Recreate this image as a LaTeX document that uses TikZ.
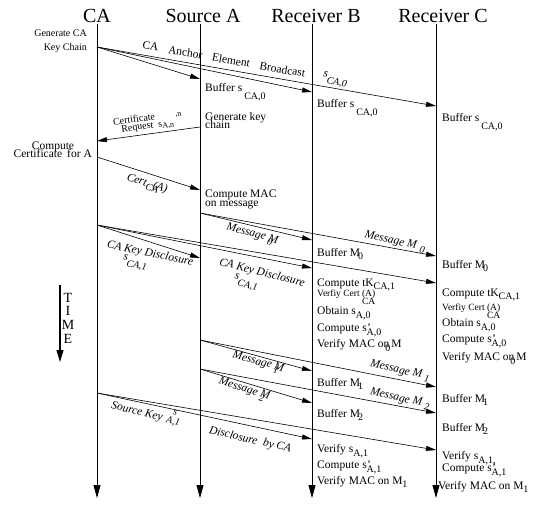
\documentclass[tikz,border=0pt]{standalone}
\usepackage{fontspec}
\setmainfont{Liberation Serif}
\usetikzlibrary{arrows.meta}
\newcommand{\lowsub}[2][-4pt]{\raisebox{#1}{\fontsize{10}{10}\selectfont #2}}
\newcommand{\bufs}{Buffer s\,\lowsub[-8pt]{CA,0}}

\begin{document}
\begin{tikzpicture}[x=1pt,y=-1pt,
  life/.style={line width=0.8pt,-{Triangle[length=13pt,width=7pt]}},
  msg/.style={line width=0.6pt,-{Triangle[length=10pt,width=5pt]}},
  timearrow/.style={line width=1.2pt,-{Triangle[length=12pt,width=7pt]}},
  title/.style={font=\fontsize{20}{20}\selectfont,anchor=base,inner sep=0pt},
  note/.style={font=\fontsize{11.5}{11.5}\selectfont,anchor=base west,inner sep=0pt},
  small/.style={font=\fontsize{9.5}{9.5}\selectfont,anchor=base west,inner sep=0pt},
  lbl/.style={font=\fontsize{11.5}{11.5}\selectfont\itshape,inner sep=0pt}]
  \useasboundingbox (0,0) rectangle (537,504);
  % lifelines
  \node[title] (ca)  at (97,22)  {CA};
  \node[title] (src) at (203,22) {Source A};
  \node[title] (rb)  at (316,22) {Receiver B};
  \node[title] (rc)  at (443,22) {Receiver C};
  \coordinate (ca top) at (97,24);  \coordinate (ca end) at (97,498);
  \coordinate (a top)  at (200,24); \coordinate (a end)  at (200,498);
  \coordinate (b top)  at (312,24); \coordinate (b end)  at (312,498);
  \coordinate (c top)  at (436,24); \coordinate (c end)  at (436,498);
  \draw[life] (ca top) -- (ca end);
  \draw[life] (a top) -- (a end);
  \draw[life] (b top) -- (b end);
  \draw[life] (c top) -- (c end);

  % anchor element broadcast
  \node[font=\fontsize{10}{10}\selectfont,anchor=base east,inner sep=0pt] (gen1) at (87,36) {Generate CA};
  \node[font=\fontsize{10}{10}\selectfont,anchor=base east,inner sep=0pt] (gen2) at (87,50) {Key Chain};
  \coordinate (ca-g1) at (97,47);
  \coordinate (a-g1) at (200,79); \coordinate (b-g1) at (312,92); \coordinate (c-g1) at (436,106);
  \draw[msg] (ca-g1) -- (a-g1);
  \draw[msg] (ca-g1) -- (b-g1);
  \draw[msg] (ca-g1) -- (c-g1);
  \node[font=\fontsize{11.5}{11.5}\selectfont,inner sep=0pt,rotate=-10] (bcast) at (224,59)
    {CA\hspace{10pt}Anchor\hspace{10pt}Element\hspace{10pt}Broadcast};
  \node[lbl,rotate=-10] (bcs) at (335,80) {s\lowsub[-6pt]{CA,0}};
  \node[note] (bufA) at (205,91) {\bufs};
  \node[note] (bufB) at (317,107) {\bufs};
  \node[note] (bufC) at (442,121) {\bufs};

  % certificate request
  \node[note] (genk1) at (205,120) {Generate key};
  \node[note] (genk2) at (205,128) {chain};
  \coordinate (a-g2) at (200,127); \coordinate (ca-g2) at (97,141);
  \draw[msg] (a-g2) -- (ca-g2);
  \node[font=\fontsize{10}{10}\selectfont,inner sep=0pt,rotate=8] (req1) at (134,119) {Certificate};
  \node[font=\fontsize{10}{10}\selectfont,inner sep=0pt,rotate=8,anchor=west] (req2) at (121,128)
    {Request\hspace{5pt}s\raisebox{-2pt}{\fontsize{8}{8}\selectfont A,n}\raisebox{8pt}{\fontsize{8}{8}\selectfont\,\,,n}};
  \node[note,anchor=base] (cmp1) at (53,149) {Compute};
  \node[note,anchor=base east] (cmp2) at (92,157) {Certificate\hspace{5pt}for A};

  % certificate
  \coordinate (ca-g3) at (97,157); \coordinate (a-g3) at (200,190);
  \draw[msg] (ca-g3) -- (a-g3);
  \node[lbl,rotate=-17] (cert) at (147,184) {Cert\lowsub[-3pt]{CA}\kern-6pt(A)};
  \node[note] (mac1) at (205,197) {Compute MAC};
  \node[note] (mac2) at (205,206) {on message};

  % message M0
  \coordinate (a-g4) at (200,213); \coordinate (b-g4) at (312,240); \coordinate (c-g4) at (436,256);
  \draw[msg] (a-g4) -- (b-g4);
  \draw[msg] (a-g4) -- (c-g4);
  \node[lbl,rotate=-15] (m0a) at (252,235) {Message \rlap{\lowsub[-4pt]{0}}M};
  \node[lbl,rotate=-12] (m0c) at (395,242) {Message M\hspace{4pt}\lowsub[-3pt]{0}};
  \node[note] (bm0b) at (317,256) {Buffer M\kern-2pt\lowsub[-3pt]{0}};
  \node[note] (bm0c) at (442,268) {Buffer M\kern-2pt\lowsub[-3pt]{0}};

  % CA key disclosure
  \coordinate (ca-g5) at (97,225);
  \coordinate (a-g5) at (200,258); \coordinate (b-g5) at (312,268); \coordinate (c-g5) at (436,283);
  \draw[msg] (ca-g5) -- (a-g5);
  \draw[msg] (ca-g5) -- (b-g5);
  \draw[msg] (ca-g5) -- (c-g5);
  \node[lbl,rotate=-12] (kd1) at (150,254) {CA Key Disclosure};
  \node[lbl,rotate=-12] (kd1s) at (135,263) {s\lowsub[-6pt]{CA,1}};
  \node[lbl,rotate=-14] (kd2) at (262,273) {CA Key Disclosure};
  \node[lbl,rotate=-14] (kd2s) at (246,283) {s\lowsub[-6pt]{CA,1}};

  \node[note] (tkb) at (317,286) {Compute tK\lowsub[-3pt]{CA,1}};
  \node[small] (vcb) at (317,296) {Verfiy Cert (A)\llap{\raisebox{-8pt}{CA}}};
  \node[note] (obb) at (317,314) {Obtain s\lowsub{A,0}};
  \node[note] (csb) at (317,331) {Compute s\rlap{\kern0.5pt'}\lowsub{A,0}};
  \node[note] (vmb) at (317,347) {Verify MAC on\llap{\lowsub{0}\kern-1pt}\,M};
  \node[note] (tkc) at (442,296) {Compute tK\lowsub[-3pt]{CA,1}};
  \node[small] (vcc) at (442,310) {Verfiy Cert (A)\llap{\raisebox{-8pt}{CA}}};
  \node[note] (obc) at (442,326) {Obtain s\lowsub{A,0}};
  \node[note] (csc) at (442,342) {Compute s\rlap{\kern0.5pt'}\lowsub{A,0}};
  \node[note] (vmc) at (442,360) {Verify MAC on\llap{\lowsub{0}\kern-1pt}\,M};

  % TIME
  \coordinate (t top) at (60,285); \coordinate (t end) at (60,362);
  \draw[timearrow] (t top) -- (t end);
  \node[font=\fontsize{14}{13.7}\selectfont,align=center,inner sep=0pt] (time) at (68,318) {T\\I\\M\\E};

  % message M1
  \coordinate (a-g6) at (200,340); \coordinate (b-g6) at (312,371); \coordinate (c-g6) at (436,387);
  \draw[msg] (a-g6) -- (b-g6);
  \draw[msg] (a-g6) -- (c-g6);
  \node[lbl,rotate=-15] (m1a) at (258,363) {Message \rlap{\lowsub[-4pt]{1}}M};
  \node[lbl,rotate=-12] (m1c) at (400,371) {Message M\hspace{3pt}\lowsub[-3pt]{1}};
  \node[note] (bm1b) at (317,386) {Buffer M\kern-2pt\lowsub[-3pt]{1}};
  \node[note] (bm1c) at (442,402) {Buffer M\kern-2pt\lowsub[-3pt]{1}};

  % message M2
  \coordinate (a-g7) at (200,369); \coordinate (b-g7) at (312,403); \coordinate (c-g7) at (436,413);
  \draw[msg] (a-g7) -- (b-g7);
  \draw[msg] (a-g7) -- (c-g7);
  \node[lbl,rotate=-17] (m2a) at (244,390) {Message \rlap{\lowsub[-4pt]{2}}M};
  \node[lbl,rotate=-12] (m2c) at (400,399) {Message M\hspace{3pt}\lowsub[-3pt]{2}};
  \node[note] (bm2b) at (317,417) {Buffer M\kern-2pt\lowsub[-3pt]{2}};
  \node[note] (bm2c) at (442,431) {Buffer M\kern-2pt\lowsub[-3pt]{2}};

  % source key disclosure
  \coordinate (ca-g8) at (97,393); \coordinate (b-g8) at (312,439); \coordinate (c-g8) at (436,450);
  \draw[msg] (ca-g8) -- (b-g8);
  \draw[msg] (ca-g8) -- (c-g8);
  \node[lbl,rotate=-13] (sk) at (137,412) {Source Key};
  \node[lbl,rotate=-13] (sks) at (174,418)
    {\fontsize{10}{9}\selectfont\shortstack{s\\A,1}};
  \node[lbl,rotate=-13] (dis) at (250,440) {Disclosure\hspace{6pt}by CA};

  \node[note] (vsb) at (317,452) {Verify s\lowsub{A,1}};
  \node[note] (csb2) at (317,468) {Compute s\rlap{\kern0.5pt'}\lowsub{A,1}};
  \node[note] (vmb2) at (317,484) {Verify MAC on M\lowsub[-3pt]{1}};
  \node[note] (vsc) at (442,459) {Verify s\lowsub{A,1,}};
  \node[note] (csc2) at (442,471) {Compute s\rlap{\kern0.5pt'}\lowsub{A,1}};
  \node[note] (vmc2) at (438,489) {Verify MAC on M\lowsub[-3pt]{1}};
\end{tikzpicture}
\end{document}
